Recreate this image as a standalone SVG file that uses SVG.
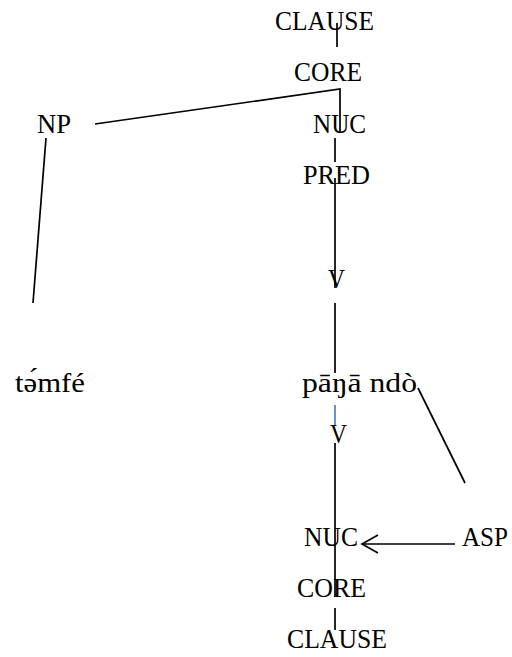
<svg xmlns="http://www.w3.org/2000/svg" width="512" height="657" viewBox="0 0 512 657">
  <style>
    .lbl { font-family: "Liberation Serif", "DejaVu Serif", serif; font-size: 28px; fill: #000; }
    .edge { stroke: #000; stroke-width: 1.7; fill: none; }
    .blue { stroke: #4f81bd; stroke-width: 1.7; fill: none; }
  </style>
  <defs>
    <!-- open chevron head, drawn pointing along +x so orient="auto" follows the line -->
    <marker id="openArrow" markerWidth="20" markerHeight="22" refX="17" refY="10" orient="auto" markerUnits="userSpaceOnUse">
      <path d="M1,1 L17,10 L1,19" fill="none" stroke="#000" stroke-width="1.7"/>
    </marker>
  </defs>

  <!-- connectors -->
  <g id="connectors">
    <line class="edge" x1="337" y1="23" x2="337" y2="47"/>
    <polyline class="edge" points="95,124 340,89 340,132"/>
    <line class="edge" x1="335" y1="138" x2="335" y2="162"/>
    <line class="edge" x1="335" y1="178" x2="335" y2="288"/>
    <line class="edge" x1="335" y1="303" x2="335" y2="373"/>
    <line class="edge" x1="46" y1="138" x2="33" y2="303"/>
    <line class="blue" x1="335" y1="405" x2="335" y2="425"/>
    <line class="edge" x1="335" y1="443" x2="335" y2="597"/>
    <line class="edge" x1="335" y1="608" x2="335" y2="630"/>
    <line class="edge" x1="418" y1="388" x2="465" y2="483"/>
    <line class="edge" x1="455" y1="544" x2="362" y2="544" marker-end="url(#openArrow)"/>
  </g>

  <!-- upper tree -->
  <g id="clause-top"><text class="lbl" x="275" y="30" textLength="99" lengthAdjust="spacingAndGlyphs">CLAUSE</text></g>
  <g id="core-top"><text class="lbl" x="294" y="81" textLength="68" lengthAdjust="spacingAndGlyphs">CORE</text></g>
  <g id="np"><text class="lbl" x="37" y="133" textLength="34" lengthAdjust="spacingAndGlyphs">NP</text></g>
  <g id="nuc-top"><text class="lbl" x="313" y="133" textLength="53" lengthAdjust="spacingAndGlyphs">NUC</text></g>
  <g id="pred"><text class="lbl" x="303" y="184" textLength="67" lengthAdjust="spacingAndGlyphs">PRED</text></g>
  <g id="v-top"><text class="lbl" x="328" y="288" textLength="17" lengthAdjust="spacingAndGlyphs">V</text></g>

  <!-- words -->
  <g id="word-tamfe"><text class="lbl" x="15" y="392" textLength="70" lengthAdjust="spacingAndGlyphs">tə́mfé</text></g>
  <g id="word-pana-ndo"><text class="lbl" x="302" y="392" textLength="115" lengthAdjust="spacingAndGlyphs">pāŋā ndò</text></g>

  <!-- lower tree -->
  <g id="v-bottom"><text class="lbl" x="330" y="443" textLength="17" lengthAdjust="spacingAndGlyphs">V</text></g>
  <g id="nuc-bottom"><text class="lbl" x="304" y="546" textLength="54" lengthAdjust="spacingAndGlyphs">NUC</text></g>
  <g id="asp"><text class="lbl" x="462" y="546" textLength="46" lengthAdjust="spacingAndGlyphs">ASP</text></g>
  <g id="core-bottom"><text class="lbl" x="297" y="597" textLength="69" lengthAdjust="spacingAndGlyphs">CORE</text></g>
  <g id="clause-bottom"><text class="lbl" x="287" y="648" textLength="100" lengthAdjust="spacingAndGlyphs">CLAUSE</text></g>
</svg>
